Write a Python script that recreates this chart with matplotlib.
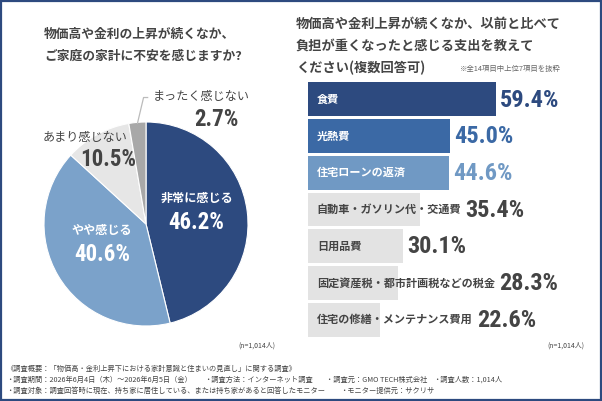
import numpy as np
import matplotlib.pyplot as plt
from matplotlib.patches import Rectangle

plt.rcParams['font.family'] = ['Noto Sans CJK JP', 'DejaVu Sans']

# ---- data ----
pie_labels = ['非常に感じる', 'やや感じる', 'あまり感じない', 'まったく感じない']
pie_values = [46.2, 40.6, 10.5, 2.7]
pie_colors = ['#2D4A7F', '#7BA2CA', '#E6E6E6', '#A8A8A8']

bar_labels = ['食費', '光熱費', '住宅ローンの返済', '自動車・ガソリン代・交通費',
              '日用品費', '固定資産税・都市計画税などの税金', '住宅の修繕・メンテナンス費用']
bar_values = [59.4, 45.0, 44.6, 35.4, 30.1, 28.3, 22.6]
bar_colors = ['#2D4A7F', '#3B69A5', '#7099C4', '#E3E3E3', '#E3E3E3', '#E3E3E3', '#E3E3E3']
value_colors = ['#2D4A7F', '#3B69A5', '#7099C4', '#444444', '#444444', '#444444', '#444444']
label_colors = ['white', 'white', 'white', '#444444', '#444444', '#444444', '#444444']

left_title = ['物価高や金利の上昇が続くなか、', 'ご家庭の家計に不安を感じますか?']
right_title = ['物価高や金利上昇が続くなか、以前と比べて', '負担が重くなったと感じる支出を教えて',
               'ください(複数回答可)']
note_top = '※全14項目中上位7項目を抜粋'
n_text = '(n=1,014人)'
footer_1 = ['《調査概要：「物価高・金利上昇下における家計意識と住まいの見直し」に関する調査》']
footer_2 = ['・調査期間：2026年6月4日（木）～2026年6月5日（金）', '・調査方法：インターネット調査',
            '・調査元：GMO TECH株式会社', '・調査人数：1,014人']
footer_3 = ['・調査対象：調査回答時に現在、持ち家に居住している、または持ち家があると回答したモニター',
            '・モニター提供元：サクリサ']

W, H = 602, 401
num_font = ['Roboto Condensed', 'Liberation Sans Narrow', 'Noto Sans CJK JP']
txt = '#444444'

fig = plt.figure(figsize=(W / 100, H / 100), dpi=100)
fig.patch.set_facecolor('white')

# background axes in pixel coordinates
bg = fig.add_axes([0, 0, 1, 1])
bg.set_xlim(0, W)
bg.set_ylim(H, 0)
bg.axis('off')
bg.add_patch(Rectangle((1, 1), W - 2.5, H - 2.5, fill=False, ec='#2D4A7F', lw=1.6))

# titles
for i, s in enumerate(left_title):
    bg.text(44, 34 + 22 * i, s, fontsize=9.2, fontweight='bold', color=txt, va='center')
for i, s in enumerate(right_title):
    bg.text(296, 24 + 22 * i, s, fontsize=9.5, fontweight='bold', color=txt, va='center')
bg.text(460, 69, note_top, fontsize=5.3, color='#666666', va='center')
bg.text(275, 346, n_text, fontsize=5, color=txt, va='center', ha='right')
bg.text(584, 346, n_text, fontsize=5, color=txt, va='center', ha='right')

# footer
fs_foot = 5.2
bg.text(6, 369, footer_1[0], fontsize=fs_foot, color=txt, va='center')
for s, x in zip(footer_2, [6, 204, 326, 433]):
    bg.text(x, 380, s, fontsize=fs_foot, color=txt, va='center')
for s, x in zip(footer_3, [6, 340]):
    bg.text(x, 391, s, fontsize=fs_foot, color=txt, va='center')

# ---- pie ----
cx, cy, r = 146, 224, 102
pax = fig.add_axes([(cx - r) / W, 1 - (cy + r) / H, 2 * r / W, 2 * r / H])
wedges, _ = pax.pie(pie_values, colors=pie_colors, startangle=90, counterclock=False,
                    wedgeprops=dict(edgecolor='white', linewidth=0.8))
pax.set_xlim(-1, 1)
pax.set_ylim(-1, 1)
pax.set_aspect('equal')

mids = [np.deg2rad((w.theta1 + w.theta2) / 2) for w in wedges]

# inner labels (white)
for i in [0, 1]:
    x, y = 0.5 * np.cos(mids[i]), 0.5 * np.sin(mids[i])
    pax.text(x, y + 0.19, pie_labels[i], fontsize=8.7, fontweight='bold', color='white',
             ha='center', va='center')
    pax.text(x, y - 0.04, '%.1f%%' % pie_values[i], fontsize=16.5, fontweight='bold',
             family=num_font, color='white', ha='center', va='center')

# outside labels (gray)
pax.text(-0.18, 0.85, pie_labels[2], fontsize=8.7, color=txt, ha='right', va='center',
         clip_on=False)
pax.text(-0.37, 0.63, '%.1f%%' % pie_values[2], fontsize=16.5, fontweight='bold',
         family=num_font, color=txt, ha='center', va='center', clip_on=False)
pax.text(0.54, 1.25, pie_labels[3], fontsize=8.7, color=txt, ha='center', va='center',
         clip_on=False)
pax.text(0.69, 1.02, '%.1f%%' % pie_values[3], fontsize=16.5, fontweight='bold',
         family=num_font, color=txt, ha='center', va='center', clip_on=False)

# leader line for the smallest slice
a = mids[3]
x0, y0 = np.cos(a) * 0.99, np.sin(a) * 0.99
pax.plot([x0, x0 + 0.06, x0 + 0.1], [y0, 1.24, 1.24], color='#BBBBBB', lw=0.9,
         clip_on=False)

# ---- bars ----
bx0, bx1 = 308, 308 + 188 * 100 / 59.4
btop, bbot = 81, 338
bax = fig.add_axes([bx0 / W, 1 - bbot / H, (bx1 - bx0) / W, (bbot - btop) / H])
ypos = np.arange(len(bar_values))
bax.barh(ypos, bar_values, height=0.92, color=bar_colors)
bax.set_xlim(0, 100)
bax.set_ylim(len(bar_values) - 0.5, -0.5)
bax.axis('off')

fig.canvas.draw()
renderer = fig.canvas.get_renderer()
inv = bax.transData.inverted()
for i, (lab, v) in enumerate(zip(bar_labels, bar_values)):
    t = bax.text(2.8, i, lab, fontsize=8, fontweight='bold', color=label_colors[i],
                 va='center', ha='left')
    bb = t.get_window_extent(renderer)
    lab_end = inv.transform((bb.x1, bb.y0))[0]
    vx = max(v, lab_end) + 1.3
    bax.text(vx, i + 0.02, '%.1f%%' % v, fontsize=17.5, fontweight='bold', family=num_font,
             color=value_colors[i], va='center', ha='left', clip_on=False)

plt.savefig('out.png', dpi=100)
